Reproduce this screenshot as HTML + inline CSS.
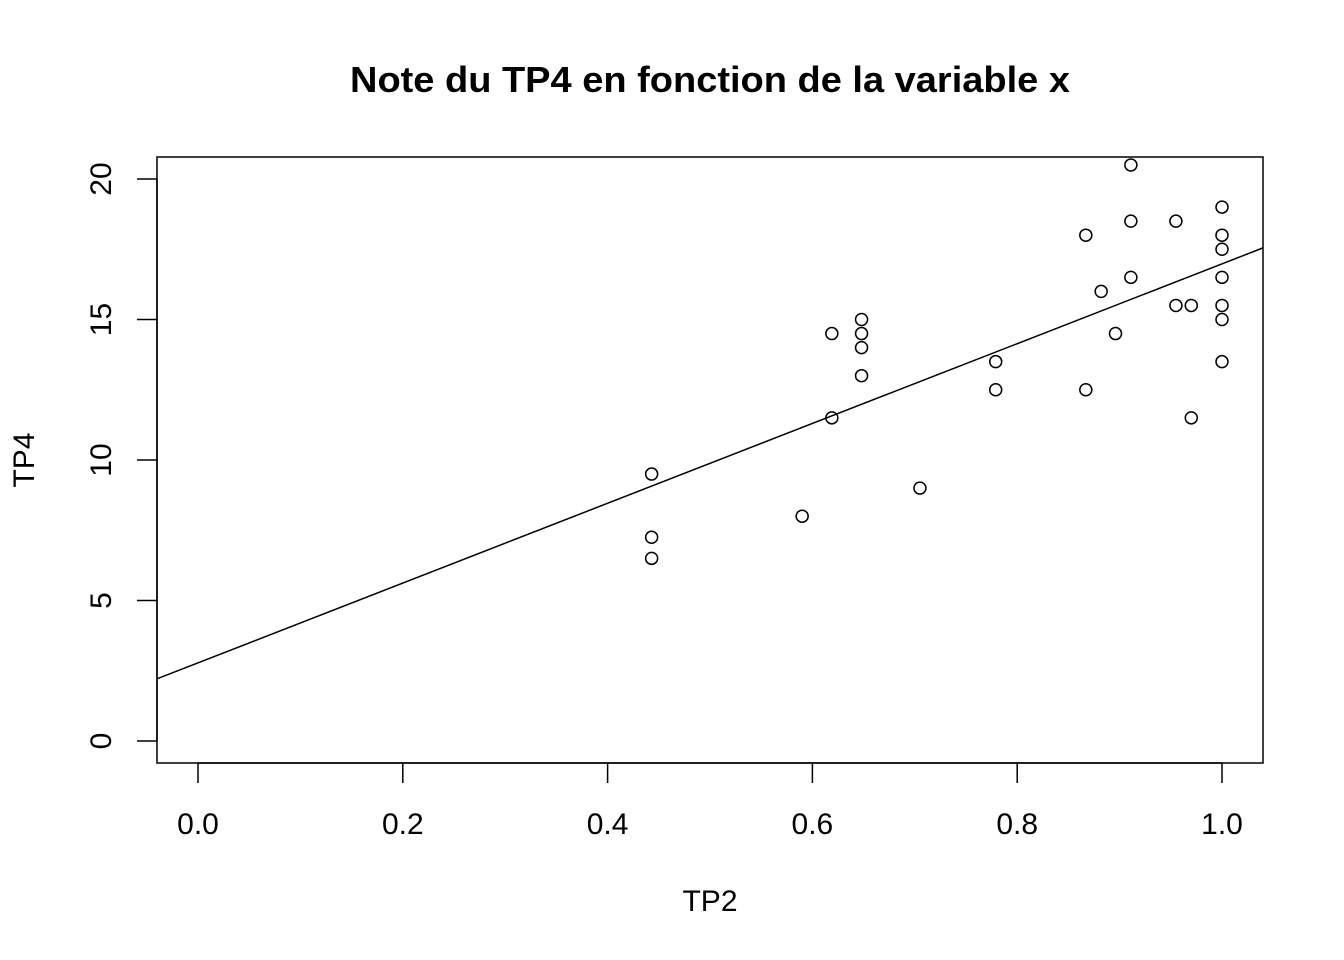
<!DOCTYPE html>
<html><head><meta charset="utf-8"><style>
html,body{margin:0;padding:0;background:#fff;}
svg{display:block;font-family:"Liberation Sans",Arial,sans-serif;}
</style></head><body>
<svg id="chart" width="1344" height="960" viewBox="0 0 1344 960">
<text x="710" y="92" text-anchor="middle" font-size="36" font-weight="bold" textLength="720" lengthAdjust="spacingAndGlyphs">Note du TP4 en fonction de la variable x</text>
<rect x="157" y="157" width="1106" height="606" fill="none" stroke="#000" stroke-width="1.5"/>
<g id="xaxis"></g>
<g id="yaxis"></g>
<text x="710" y="911" text-anchor="middle" font-size="30">TP2</text>
<text transform="translate(34,460) rotate(-90)" text-anchor="middle" font-size="30">TP4</text>
<g id="marks"></g>
</svg>
<script>
const xTicks=[0,0.2,0.4,0.6,0.8,1.0];
const xTickLabels=["0.0","0.2","0.4","0.6","0.8","1.0"];
const yTicks=[0,5,10,15,20];
const yTickLabels=["0","5","10","15","20"];
const tp2=[0.443,0.443,0.443,0.59,0.619,0.619,0.648,0.648,0.648,0.648,0.705,0.779,0.779,0.867,0.867,0.882,0.896,0.911,0.911,0.911,0.955,0.955,0.970,0.970,1,1,1,1,1,1,1];
const tp4=[9.5,7.25,6.5,8,14.5,11.5,15,14.5,14,13,9,13.5,12.5,18,12.5,16,14.5,20.5,18.5,16.5,18.5,15.5,15.5,11.5,19,18,17.5,16.5,15.5,15,13.5];
const regIntercept=2.78;
const regSlope=14.2;
const NS="http://www.w3.org/2000/svg";
const X=v=>198+v*1024;
const Y=v=>741-v*28.1;
const xMin=157,xMax=1263;
function mk(tag,attrs,parent){const e=document.createElementNS(NS,tag);for(const k in attrs)e.setAttribute(k,attrs[k]);parent.appendChild(e);return e;}
const xa=document.getElementById('xaxis'),ya=document.getElementById('yaxis'),mg=document.getElementById('marks');
mk('line',{x1:X(xTicks[0]),x2:X(xTicks[xTicks.length-1]),y1:763,y2:763,stroke:'#000','stroke-width':1.5},xa);
xTicks.forEach((t,i)=>{
 const l=mk('line',{x1:X(t),x2:X(t),y1:763,y2:783,stroke:'#000','stroke-width':1.5},xa);
 
 
 const tx=mk('text',{x:X(t),y:834,'text-anchor':'middle','font-size':30},xa);tx.textContent=xTickLabels[i];
 
 
});
mk('line',{x1:157,x2:157,y1:Y(yTicks[0]),y2:Y(yTicks[yTicks.length-1]),stroke:'#000','stroke-width':1.5},ya);
yTicks.forEach((t,i)=>{
 const l=mk('line',{x1:137,x2:157,y1:Y(t),y2:Y(t),stroke:'#000','stroke-width':1.5},ya);
 
 
 const tx=mk('text',{transform:`translate(111,${Y(t)}) rotate(-90)`,'text-anchor':'middle','font-size':30},ya);tx.textContent=yTickLabels[i];
 
 
});
const xl=(xMin-198)/1024,xr=(xMax-198)/1024;
const rl=mk('line',{x1:xMin,x2:xMax,y1:Y(regIntercept+regSlope*xl),y2:Y(regIntercept+regSlope*xr),stroke:'#000','stroke-width':1.5},mg);


tp2.forEach((v,i)=>{
 const c=mk('circle',{cx:X(v),cy:Y(tp4[i]),r:6,fill:'none',stroke:'#000','stroke-width':1.5},mg);
 
 
});
</script>
</body></html>
